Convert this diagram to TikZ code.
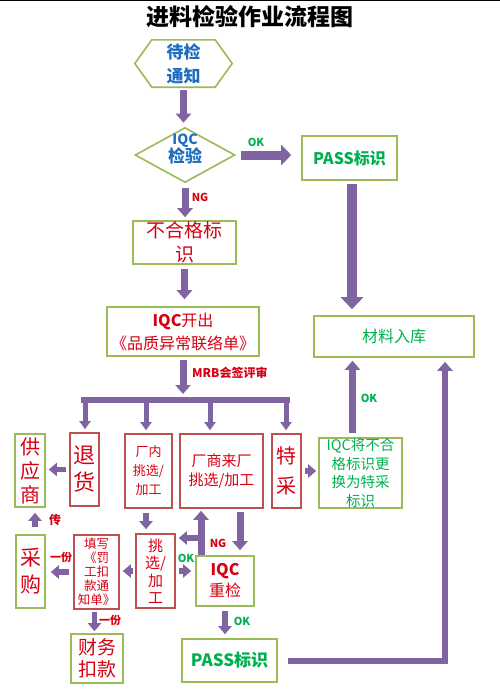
\documentclass[tikz,border=0pt]{standalone}
\usepackage{fontspec}
\setmainfont{Noto Sans CJK SC}
\usetikzlibrary{arrows.meta,shapes.geometric}
\definecolor{boxgreen}{RGB}{155,187,89}
\definecolor{boxred}{RGB}{192,80,77}
\definecolor{flowpurple}{RGB}{128,100,162}
\definecolor{txtred}{RGB}{214,0,18}
\definecolor{txtgreen}{RGB}{0,176,80}
\definecolor{txtblue}{RGB}{31,110,190}
\newcommand{\fs}[2]{\fontsize{#1}{#2}\selectfont}
\tikzset{
  box/.style={draw, line width=1.6pt, fill=white, inner sep=0pt, align=center},
  box-green/.style={box, draw=boxgreen},
  box-red/.style={box, draw=boxred},
  flow/.style={draw=flowpurple, line width=7pt, -{Triangle[width=15pt,length=9pt]}},
  flow-big/.style={flow, line width=10pt, -{Triangle[width=22pt,length=12pt]}},
  flow-small/.style={flow, line width=5.5pt, -{Triangle[width=13pt,length=8pt]}},
  flow-drop/.style={flow, line width=5pt, -{Triangle[width=11pt,length=8pt]}},
  tag/.style={font=\bfseries\fs{11}{13}, inner sep=0pt}
}
\newcommand{\hexframe}[2]{
  \draw[boxgreen, line width=1.6pt] (#1.west) -- ([xshift=#2]#1.north west) -- ([xshift=-#2]#1.north east)
    -- (#1.east) -- ([xshift=-#2]#1.south east) -- ([xshift=#2]#1.south west) -- cycle;
}

\begin{document}
\begin{tikzpicture}[x=1pt, y=-1pt]
  \useasboundingbox (0,0) rectangle (500,699);
  \fill[white] (0,0) rectangle (500,699);
  \draw[line width=1.2pt] (0,0.6) -- (500,0.6);

  % --- Title ---
  \node[font=\bfseries\fs{23}{26}] (title) at (250,17) {进料检验作业流程图};

  % --- Main column ---
  \node[text=txtblue, font=\bfseries\fs{17}{24}, minimum width=97pt, minimum height=47pt, inner sep=0pt, align=center] (notice) at (183.5,63.5) {待检\\通知};
  \hexframe{notice}{17pt}
  \node[box-green, diamond, minimum width=100pt, minimum height=55pt,
    label={[text=txtblue, font=\bfseries, align=center, yshift=6pt]center:{\fs{14}{17}IQC}\\{\fs{17}{20}检验}}] (check) at (185,155) {};
  \node[box-green, text=txtgreen, font=\bfseries\fs{16}{20}, minimum width=95pt, minimum height=44pt] (pass-a) at (349.5,158) {PASS标识};
  \node[box-green, text=txtred, font=\fs{19}{24}, minimum width=103pt, minimum height=43pt] (reject) at (184.5,242.5) {不合格标\\识};
  \node[box-green, text=txtred, font=\fs{16}{23}, minimum width=152pt, minimum height=49pt] (report) at (183,331.5) {\textbf{IQC}开出\\《品质异常联络单》};
  \node[box-green, text=txtgreen, font=\fs{16}{20}, minimum width=160pt, minimum height=41pt] (stock) at (394,336.5) {材料入库};

  % --- MRB branches ---
  \coordinate (bar-l) at (81,400);
  \coordinate (bar-r) at (290,400);
  \node[box-green, text=txtred, font=\fs{20}{24}, minimum width=30pt, minimum height=73pt] (supplier) at (30,470.5) {供\\应\\商};
  \node[box-red, text=txtred, font=\fs{22}{27}, minimum width=29pt, minimum height=73pt] (return) at (84.5,469.5) {退\\货};
  \node[box-red, text=txtred, font=\fs{13}{19}, minimum width=47pt, minimum height=74pt] (inhouse) at (148.5,471) {厂内\\挑选/\\加工};
  \node[box-red, text=txtred, font=\fs{15}{19}, minimum width=83pt, minimum height=74pt] (onsite) at (221.5,471) {厂商来厂\\挑选/加工};
  \node[box-red, text=txtred, font=\fs{20}{30}, minimum width=29pt, minimum height=74pt] (concession) at (286.5,471) {特\\采};
  \node[box-green, text=txtgreen, font=\fs{14.5}{18.5}, minimum width=83pt, minimum height=70pt] (relabel) at (360.5,473) {IQC将不合\\格标识更\\换为特采\\标识};

  % --- Lower row ---
  \node[box-green, text=txtred, font=\fs{21}{27}, minimum width=29pt, minimum height=73pt] (purchase) at (30.5,571.5) {采\\购};
  \node[box-red, text=txtred, font=\fs{12.5}{14}, minimum width=45pt, minimum height=74pt] (penalty) at (96.5,572) {填写\\《罚\\工扣\\款通\\知单》};
  \node[box-red, text=txtred, font=\fs{15}{17.5}, minimum width=39pt, minimum height=74pt] (resort) at (155.5,571) {挑\\选/\\加\\工};
  \node[box-green, text=txtred, font=\fs{16}{21}, minimum width=58pt, minimum height=50pt] (recheck) at (225,581) {\textbf{IQC}\\重检};
  \node[box-green, text=txtgreen, font=\bfseries\fs{17}{20}, minimum width=95pt, minimum height=43pt] (pass-b) at (229.5,660.5) {PASS标识};
  \node[box-green, text=txtred, font=\fs{19}{22}, minimum width=52pt, minimum height=49pt] (deduct) at (97,658.5) {财务\\扣款};

  % --- Connectors, upper part ---
  \draw[flow, shorten <=3pt, shorten >=4pt] (notice.south) -- (notice.south |- check.north);
  \draw[flow, line width=9pt, -{Triangle[width=20pt,length=10pt]}, shorten <=5pt, shorten >=10pt] (check.east) -- (pass-a.west |- check.east);
  \node[tag, text=txtgreen] (ok-a) at (256,142) {OK};
  \draw[flow, shorten <=5pt, shorten >=3pt] (check.south) -- (check.south |- reject.north);
  \node[tag, text=txtred] (ng-a) at (200,197) {NG};
  \draw[flow, shorten <=4pt, shorten >=7pt] (reject.south) -- (reject.south |- report.north);
  \draw[flow, shorten <=3pt, shorten >=6pt] (report.south) -- (report.south |- bar-l);
  \node[tag, text=txtred, anchor=west, font=\bfseries\fs{12}{14}] (mrb) at (192,373) {MRB会签评审};
  \path ([xshift=2.5pt]pass-a.south) coordinate (pass-a-out);
  \draw[flow-big, shorten <=3pt, shorten >=6pt] (pass-a-out) -- (pass-a-out |- stock.north);

  % bar and drops
  \draw[flowpurple, line width=6pt] (bar-l) -- (bar-r);
  \foreach \n/\dx in {return/0.5, inhouse/-2.5, onsite/-11.5, concession/-0.5} {
    \path ([xshift=\dx pt]\n.north) coordinate (drop);
    \draw[flow-drop, shorten >=3pt] (drop |- bar-l) -- (drop);
  }

  % --- Connectors, lower part ---
  \draw[flow-small, shorten <=3pt, shorten >=3pt] (return.west) -- (supplier.east |- return.west);
  \draw[flow-small, shorten <=3pt, shorten >=2pt] (concession.east) -- (relabel.west |- concession.east);
  \path ([xshift=-8pt]relabel.north) coordinate (relabel-out);
  \draw[flow, shorten <=4pt, shorten >=3pt] (relabel-out) -- (relabel-out |- stock.south);
  \node[tag, text=txtgreen] (ok-b) at (369,398) {OK};

  \path ([xshift=-2.5pt]inhouse.south) coordinate (inhouse-out);
  \draw[flow-small, shorten <=4pt, shorten >=4pt] (inhouse-out) -- (inhouse-out |- resort.north);
  \path ([xshift=18.5pt]onsite.south) coordinate (onsite-out);
  \draw[flow, shorten <=3pt, shorten >=5pt] (onsite-out) -- (onsite-out |- recheck.north);
  \path ([xshift=-24pt]recheck.north) coordinate (recheck-ng);
  \draw[flow, shorten >=2pt] (recheck-ng) -- (recheck-ng |- onsite.south);
  \coordinate (ng-fork) at (201,538);
  \draw[flow-small, shorten >=3pt] (ng-fork) -- (ng-fork -| resort.east);
  \node[tag, text=txtred] (ng-b) at (218,543) {NG};
  \draw[flow-small, shorten <=3pt, shorten >=4pt] (resort.east) -- (recheck.west |- resort.east);
  \node[tag, text=txtgreen] (ok-c) at (186,558) {OK};
  \draw[flow-small, shorten <=2pt, shorten >=3pt] (resort.west) -- (penalty.east |- resort.west);
  \draw[flow-small, shorten <=4pt, shorten >=5pt] (penalty.west) -- (purchase.east |- penalty.west);
  \node[tag, text=txtred] (copy-a) at (61,557) {一份};
  \path ([xshift=4.5pt]purchase.north) coordinate (purchase-out);
  \draw[flow-small, shorten <=7pt, shorten >=5pt] (purchase-out) -- (purchase-out |- supplier.south);
  \node[tag, text=txtred, font=\bfseries\fs{12}{14}] (send) at (55,520) {传};
  \path ([xshift=-2pt]penalty.south) coordinate (penalty-out);
  \draw[flow-small, shorten <=2pt, shorten >=2pt] (penalty-out) -- (penalty-out |- deduct.north);
  \node[tag, text=txtred] (copy-b) at (110,620) {一份};
  \draw[flow-small, shorten <=4pt, shorten >=4pt] (recheck.south) -- (recheck.south |- pass-b.north);
  \node[tag, text=txtgreen] (ok-d) at (242,621) {OK};
  \path ([xshift=51pt]stock.south) coordinate (stock-in);
  \draw[flow, line width=6pt, shorten <=10pt, shorten >=4pt] (pass-b.east) -| (stock-in);
\end{tikzpicture}
\end{document}
